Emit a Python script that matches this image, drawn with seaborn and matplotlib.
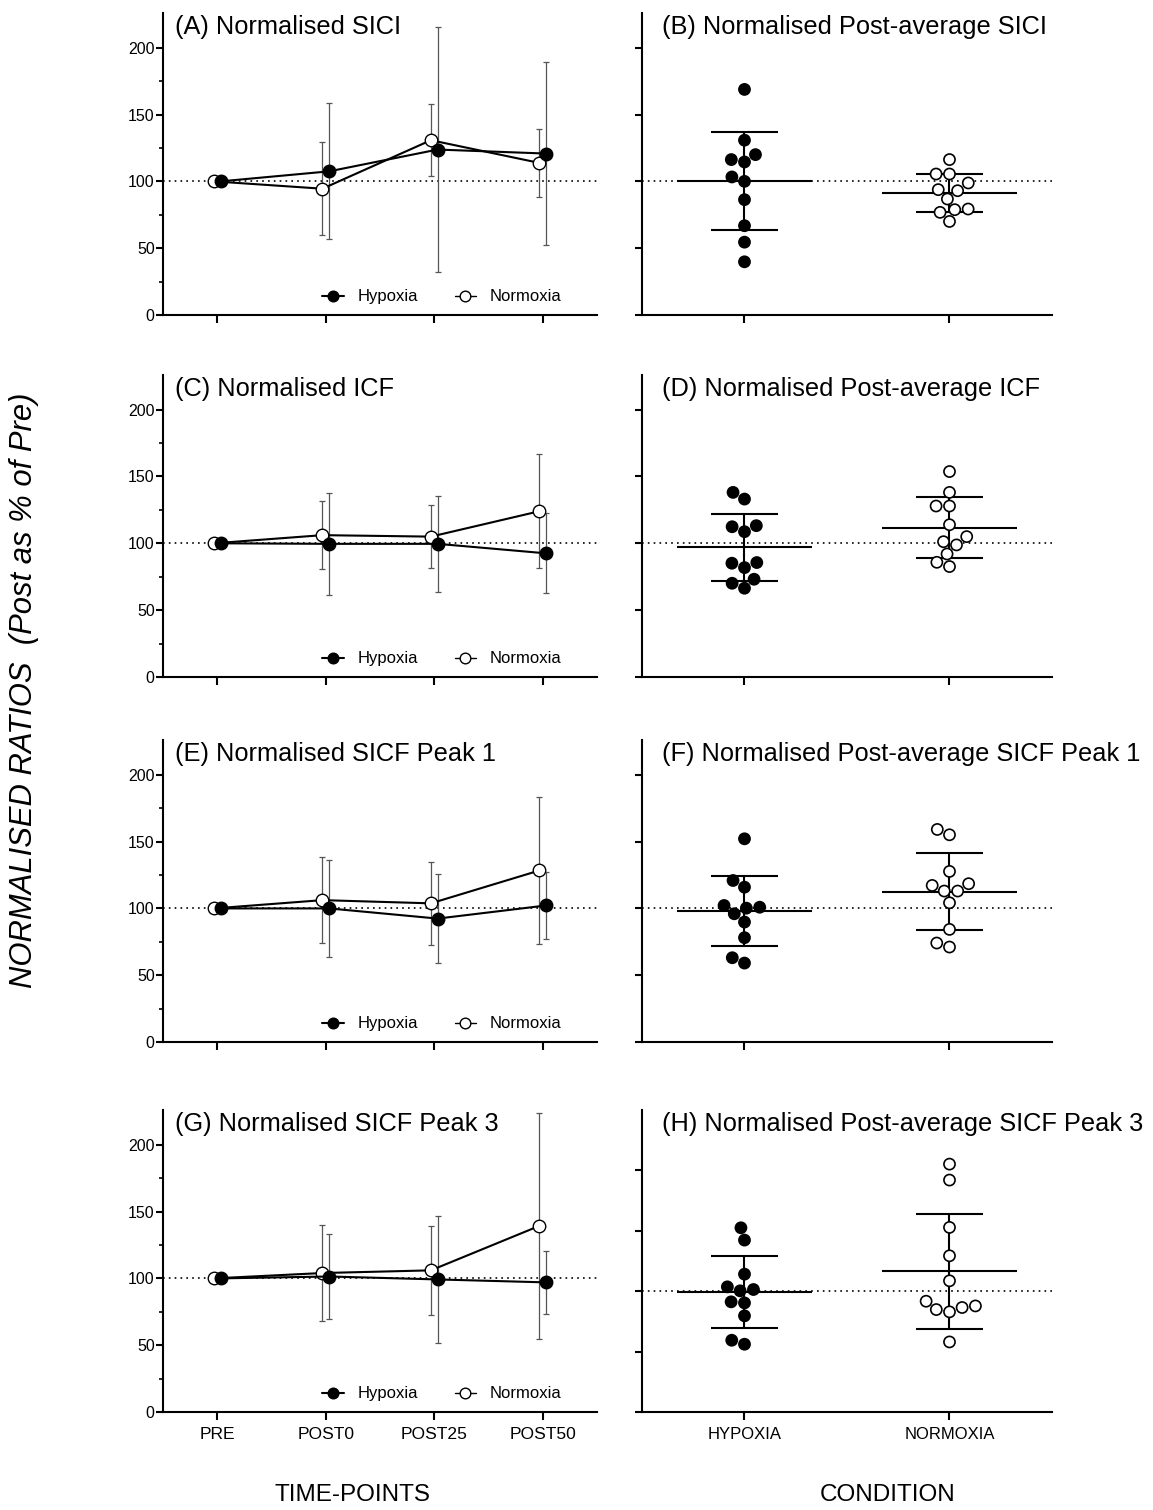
import seaborn as sns
import matplotlib.pyplot as plt
import numpy as np
import pandas as pd
from matplotlib.lines import Line2D

# time-course data (mean and SD, % of PRE)
timepoints = ['PRE', 'POST0', 'POST25', 'POST50']

sici_hyp = [100, 107.5, 123.8, 120.8]
sici_hyp_sd = [0, 51.0, 92.0, 68.6]
sici_nor = [100, 94.5, 130.8, 113.8]
sici_nor_sd = [0, 35.0, 27.0, 25.3]

icf_hyp = [100, 99.6, 99.6, 92.5]
icf_hyp_sd = [0, 38.0, 36.0, 30.0]
icf_nor = [100, 106.1, 105.0, 124.0]
icf_nor_sd = [0, 25.2, 23.4, 42.5]

p1_hyp = [100, 100.0, 92.4, 102.2]
p1_hyp_sd = [0, 36.0, 33.5, 25.4]
p1_nor = [100, 106.2, 103.8, 128.4]
p1_nor_sd = [0, 32.0, 31.0, 55.0]

p3_hyp = [100, 101.4, 99.2, 97.0]
p3_hyp_sd = [0, 31.9, 47.2, 23.3]
p3_nor = [100, 104.0, 106.0, 139.3]
p3_nor_sd = [0, 36.0, 33.5, 84.7]

# post-average individual values
conditions = ['HYPOXIA', 'NORMOXIA']

sici_avg_hyp = [168.8, 130.8, 120.0, 114.5, 116.3, 103.3, 100.0, 86.3, 66.8, 54.5, 39.8]
sici_avg_nor = [116.3, 105.5, 105.5, 98.8, 93.0, 93.8, 86.8, 78.8, 79.3, 76.8, 70.0]

icf_avg_hyp = [138.1, 133.1, 113.2, 112.4, 108.7, 85.1, 85.6, 81.8, 73.1, 70.1, 66.4]
icf_avg_nor = [153.7, 138.1, 127.9, 127.9, 113.9, 105.0, 101.2, 98.8, 92.0, 82.6, 85.8]

p1_avg_hyp = [152.1, 120.9, 115.9, 100.9, 102.2, 100.2, 96.0, 89.8, 78.1, 63.1, 59.1]
p1_avg_nor = [159.1, 155.1, 127.7, 117.2, 118.5, 113.0, 113.0, 104.2, 84.3, 74.1, 71.1]

p3_avg_hyp = [152.5, 142.3, 114.1, 103.6, 100.3, 101.4, 90.3, 91.2, 79.6, 59.4, 56.1]
p3_avg_nor = [205.2, 192.0, 152.8, 129.3, 108.6, 91.7, 87.8, 84.8, 86.5, 82.9, 58.0]

left_titles = ['(A) Normalised SICI', '(C) Normalised ICF',
               '(E) Normalised SICF Peak 1', '(G) Normalised SICF Peak 3']
right_titles = ['(B) Normalised Post-average SICI', '(D) Normalised Post-average ICF',
                '(F) Normalised Post-average SICF Peak 1',
                '(H) Normalised Post-average SICF Peak 3']

sns.set_style('ticks')
plt.rcParams['font.family'] = ['Liberation Sans', 'DejaVu Sans']
plt.rcParams['axes.linewidth'] = 1.5
plt.rcParams['text.color'] = 'black'
plt.rcParams['axes.labelcolor'] = 'black'
plt.rcParams['xtick.color'] = 'black'
plt.rcParams['ytick.color'] = 'black'
plt.rcParams['axes.edgecolor'] = 'black'

fig = plt.figure(figsize=(11.53, 15.10), dpi=100)

row_bottoms = [0.7914, 0.5517, 0.3099, 0.0649]
row_h = 0.2

left_data = [
    (sici_hyp, sici_hyp_sd, sici_nor, sici_nor_sd),
    (icf_hyp, icf_hyp_sd, icf_nor, icf_nor_sd),
    (p1_hyp, p1_hyp_sd, p1_nor, p1_nor_sd),
    (p3_hyp, p3_hyp_sd, p3_nor, p3_nor_sd),
]
right_data = [
    (sici_avg_hyp, sici_avg_nor),
    (icf_avg_hyp, icf_avg_nor),
    (p1_avg_hyp, p1_avg_nor),
    (p3_avg_hyp, p3_avg_nor),
]
right_ylims = [226, 226, 226, 250]

x = np.arange(len(timepoints))
off = 0.031

for r in range(4):
    # ---------- left: time course ----------
    ax = fig.add_axes([0.1414, row_bottoms[r], 0.3764, row_h])
    hyp, hyp_sd, nor, nor_sd = left_data[r]

    ax.axhline(100, color='black', lw=1.2, linestyle=(0, (1, 2.5)), zorder=1)

    ax.errorbar(x - off, nor, yerr=nor_sd, fmt='none', ecolor='#555555',
                elinewidth=0.9, capsize=2, capthick=0.9, zorder=2)
    ax.errorbar(x + off, hyp, yerr=hyp_sd, fmt='none', ecolor='#555555',
                elinewidth=0.9, capsize=2, capthick=0.9, zorder=2)

    sns.lineplot(x=x - off, y=nor, ax=ax, color='black', lw=1.5, marker='o',
                 markersize=9, markerfacecolor='white', markeredgecolor='black',
                 markeredgewidth=1.0, zorder=3)
    sns.lineplot(x=x + off, y=hyp, ax=ax, color='black', lw=1.5, marker='o',
                 markersize=9, markerfacecolor='black', markeredgecolor='black',
                 markeredgewidth=1.0, zorder=4)

    handles = [
        Line2D([], [], color='black', lw=1.5, marker='o', markersize=9,
               markerfacecolor='black', markeredgecolor='black'),
        Line2D([], [], color='black', lw=1.0, marker='o', markersize=9,
               markerfacecolor='white', markeredgecolor='black'),
    ]
    ax.legend(handles, ['Hypoxia', 'Normoxia'], loc='lower right', ncol=2,
              frameon=False, fontsize=12, handlelength=1.3, handletextpad=0.8,
              columnspacing=2.2, markerscale=0.85, borderaxespad=0,
              bbox_to_anchor=(0.933, 0.013))

    ax.set_xlim(-0.5, 3.5)
    ax.set_ylim(0, 226)
    ax.set_xticks(x)
    ax.set_yticks([0, 50, 100, 150, 200])
    ax.set_yticks([25, 75, 125, 175], minor=True)
    if r == 3:
        ax.set_xticklabels(timepoints, fontsize=12.6)
    else:
        ax.set_xticklabels([])
    ax.tick_params(axis='y', which='major', length=5, width=1.5, labelsize=11.5, pad=1)
    ax.tick_params(axis='y', which='minor', length=3, width=1.2)
    ax.tick_params(axis='x', which='major', length=6, width=1.5, pad=5)
    sns.despine(ax=ax)
    ax.set_xlabel('')
    ax.set_ylabel('')
    ax.text(0.028, 0.955, left_titles[r], transform=ax.transAxes, fontsize=18.3,
            ha='left', va='center')

    # ---------- right: post-average scatter ----------
    ax2 = fig.add_axes([0.5568, row_bottoms[r], 0.3556, row_h])
    hyp_v, nor_v = right_data[r]
    df = pd.DataFrame({
        'condition': ['HYPOXIA'] * len(hyp_v) + ['NORMOXIA'] * len(nor_v),
        'value': hyp_v + nor_v,
    })

    ax2.axhline(100, color='black', lw=1.2, linestyle=(0, (1, 2.5)), zorder=1)

    for i, vals in enumerate([hyp_v, nor_v]):
        m = np.mean(vals)
        sd = np.std(vals, ddof=1)
        ax2.hlines(m, i - 0.33, i + 0.33, color='black', lw=1.5, zorder=2)
        ax2.vlines(i, m - sd, m + sd, color='black', lw=1.5, zorder=2)
        ax2.hlines([m - sd, m + sd], i - 0.165, i + 0.165, color='black', lw=1.5, zorder=2)

    sns.swarmplot(data=df, x='condition', y='value', hue='condition', order=conditions,
                  palette={'HYPOXIA': 'black', 'NORMOXIA': 'white'},
                  edgecolor='black', linewidth=1.2, size=8, legend=False,
                  ax=ax2, zorder=3)

    ax2.set_xlim(-0.5, 1.5)
    ax2.set_ylim(0, right_ylims[r])
    ax2.set_xticks([0, 1])
    ax2.set_yticks([0, 50, 100, 150, 200])
    ax2.set_yticklabels([])
    if r == 3:
        ax2.set_xticklabels(conditions, fontsize=12)
    else:
        ax2.set_xticklabels([])
    ax2.tick_params(axis='y', length=5, width=1.5)
    ax2.tick_params(axis='x', length=6, width=1.5, pad=5)
    sns.despine(ax=ax2)
    ax2.set_xlabel('')
    ax2.set_ylabel('')
    ax2.text(0.049, 0.955, right_titles[r], transform=ax2.transAxes, fontsize=18.3,
             ha='left', va='center')

fig.text(0.021, 0.543, 'NORMALISED RATIOS  (Post as % of Pre)', rotation=90,
         style='italic', fontsize=22.3, ha='center', va='center')
fig.text(0.306, 0.0099, 'TIME-POINTS', fontsize=17.5, ha='center', va='center')
fig.text(0.770, 0.0099, 'CONDITION', fontsize=17.5, ha='center', va='center')

plt.savefig('out.png', dpi=100)
